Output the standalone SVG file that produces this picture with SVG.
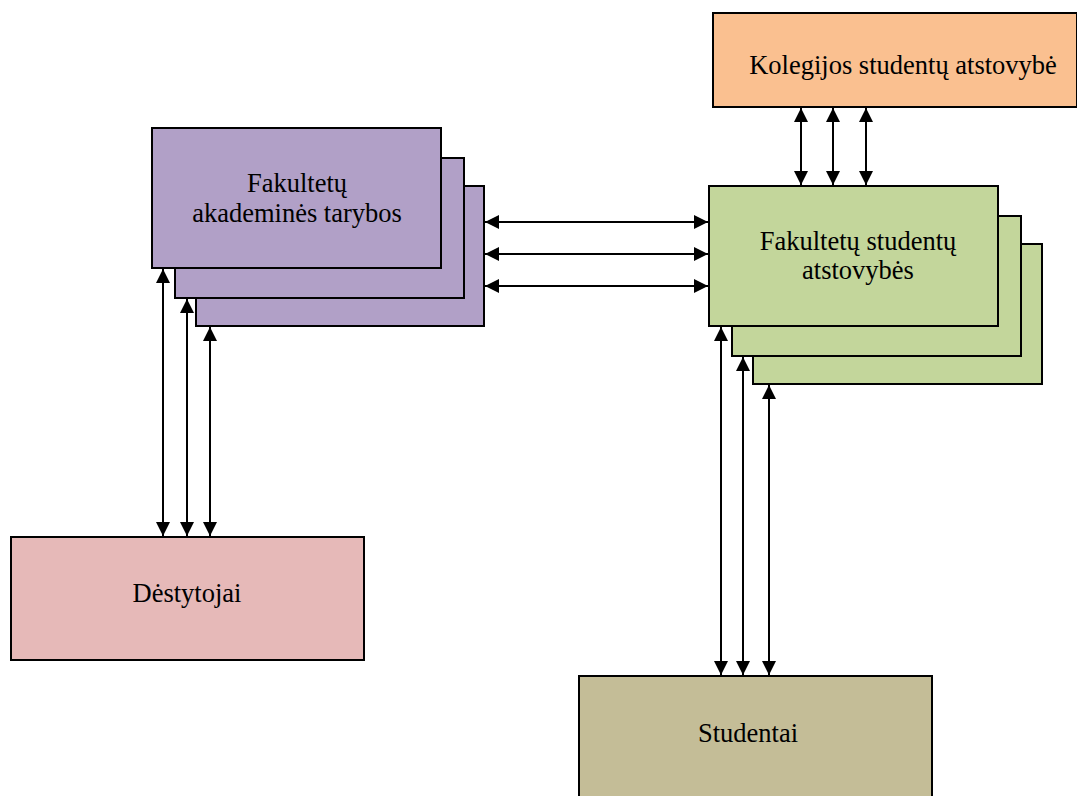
<svg xmlns="http://www.w3.org/2000/svg" width="1077" height="796" viewBox="0 0 1077 796">
<defs>
<marker id="ah" markerUnits="userSpaceOnUse" markerWidth="14" markerHeight="14" refX="14" refY="7" orient="auto-start-reverse" viewBox="0 0 14 14">
<path d="M0,0 L14,7 L0,14 z" fill="#000"/>
</marker>
<style>
.box{stroke:#000;stroke-width:2}
.purple{fill:#B1A0C7}
.green{fill:#C3D69B}
.orange{fill:#FAC090}
.pink{fill:#E6B9B8}
.khaki{fill:#C4BD97}
.lbl{font-family:"Liberation Serif","Times New Roman",serif;font-size:26.5px;fill:#000;text-anchor:middle}
.conn line{stroke:#000;stroke-width:2;marker-start:url(#ah);marker-end:url(#ah)}
</style>
</defs>
<rect width="1077" height="796" fill="#fff"/>
<g id="akademines-tarybos">
<rect class="box purple" x="196" y="186" width="288" height="140"/>
<rect class="box purple" x="175" y="158" width="289" height="140"/>
<rect class="box purple" x="152" y="128" width="289" height="140"/>
<text class="lbl" x="297" y="192">Fakultetų</text>
<text class="lbl" x="297" y="222">akademinės tarybos</text>
</g>
<g id="kolegijos-atstovybe">
<rect class="box orange" x="713" y="13" width="364" height="94"/>
<text class="lbl" x="903" y="74">Kolegijos studentų atstovybė</text>
</g>
<g id="fakultetu-atstovybes">
<rect class="box green" x="753" y="244" width="289" height="140"/>
<rect class="box green" x="732" y="216" width="289" height="140"/>
<rect class="box green" x="709" y="186" width="289" height="140"/>
<text class="lbl" x="858" y="250">Fakultetų studentų</text>
<text class="lbl" x="858" y="279">atstovybės</text>
</g>
<g id="destytojai">
<rect class="box pink" x="11" y="537" width="353" height="123"/>
<text class="lbl" x="187" y="602">Dėstytojai</text>
</g>
<g id="studentai">
<rect class="box khaki" x="579" y="676" width="353" height="130"/>
<text class="lbl" x="748" y="742">Studentai</text>
</g>
<g id="connectors" class="conn">
<line x1="801" y1="108" x2="801" y2="185"/>
<line x1="833" y1="108" x2="833" y2="185"/>
<line x1="866" y1="108" x2="866" y2="185"/>
<line x1="485" y1="222" x2="708" y2="222"/>
<line x1="485" y1="254" x2="708" y2="254"/>
<line x1="485" y1="286" x2="708" y2="286"/>
<line x1="163" y1="269" x2="163" y2="536"/>
<line x1="187" y1="299" x2="187" y2="536"/>
<line x1="210" y1="327" x2="210" y2="536"/>
<line x1="721" y1="327" x2="721" y2="675"/>
<line x1="743" y1="357" x2="743" y2="675"/>
<line x1="769" y1="385" x2="769" y2="675"/>
</g>
</svg>
